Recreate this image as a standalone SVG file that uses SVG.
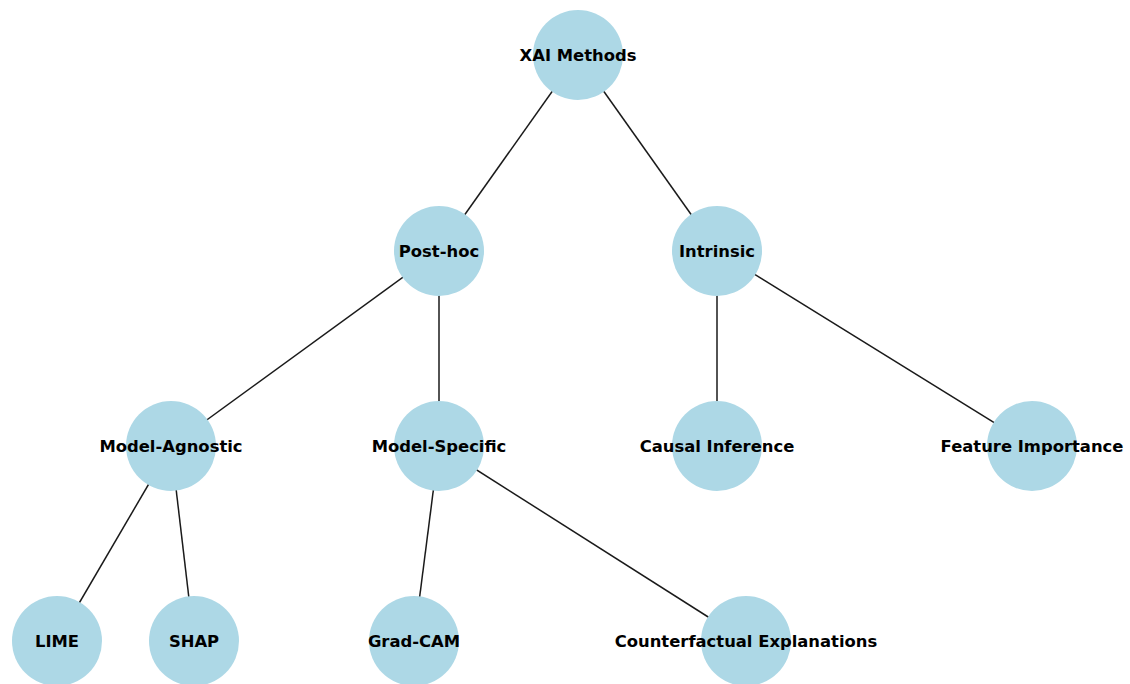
<svg xmlns="http://www.w3.org/2000/svg" width="1130" height="684" viewBox="0 0 1130 684">
<style>
.n{fill:#ADD8E6;}
.t{font-family:"DejaVu Sans",sans-serif;font-weight:bold;font-size:16.4px;fill:#000;text-anchor:middle;dominant-baseline:central;}
.e line{stroke:#1a1a1a;stroke-width:1.5;}
</style>
<rect width="1130" height="684" fill="#fff"/>
<g id="edges" class="e">
<line x1="578" y1="55" x2="439" y2="251"/>
<line x1="578" y1="55" x2="717" y2="251"/>
<line x1="439" y1="251" x2="171" y2="446"/>
<line x1="439" y1="251" x2="439" y2="446"/>
<line x1="717" y1="251" x2="717" y2="446"/>
<line x1="717" y1="251" x2="1032" y2="446"/>
<line x1="171" y1="446" x2="57" y2="641"/>
<line x1="171" y1="446" x2="194" y2="641"/>
<line x1="439" y1="446" x2="414" y2="641"/>
<line x1="439" y1="446" x2="746" y2="641"/>
</g>
<g id="xai"><circle class="n" cx="578" cy="55" r="45"/><text class="t" x="578" y="55">XAI Methods</text></g>
<g id="posthoc"><circle class="n" cx="439" cy="251" r="45"/><text class="t" x="439" y="251">Post-hoc</text></g>
<g id="intrinsic"><circle class="n" cx="717" cy="251" r="45"/><text class="t" x="717" y="251">Intrinsic</text></g>
<g id="agnostic"><circle class="n" cx="171" cy="446" r="45"/><text class="t" x="171" y="446">Model-Agnostic</text></g>
<g id="specific"><circle class="n" cx="439" cy="446" r="45"/><text class="t" x="439" y="446">Model-Specific</text></g>
<g id="causal"><circle class="n" cx="717" cy="446" r="45"/><text class="t" x="717" y="446">Causal Inference</text></g>
<g id="feature"><circle class="n" cx="1032" cy="446" r="45"/><text class="t" x="1032" y="446">Feature Importance</text></g>
<g id="lime"><circle class="n" cx="57" cy="641" r="45"/><text class="t" x="57" y="641">LIME</text></g>
<g id="shap"><circle class="n" cx="194" cy="641" r="45"/><text class="t" x="194" y="641">SHAP</text></g>
<g id="gradcam"><circle class="n" cx="414" cy="641" r="45"/><text class="t" x="414" y="641">Grad-CAM</text></g>
<g id="counterfactual"><circle class="n" cx="746" cy="641" r="45"/><text class="t" x="746" y="641">Counterfactual Explanations</text></g>
</svg>
